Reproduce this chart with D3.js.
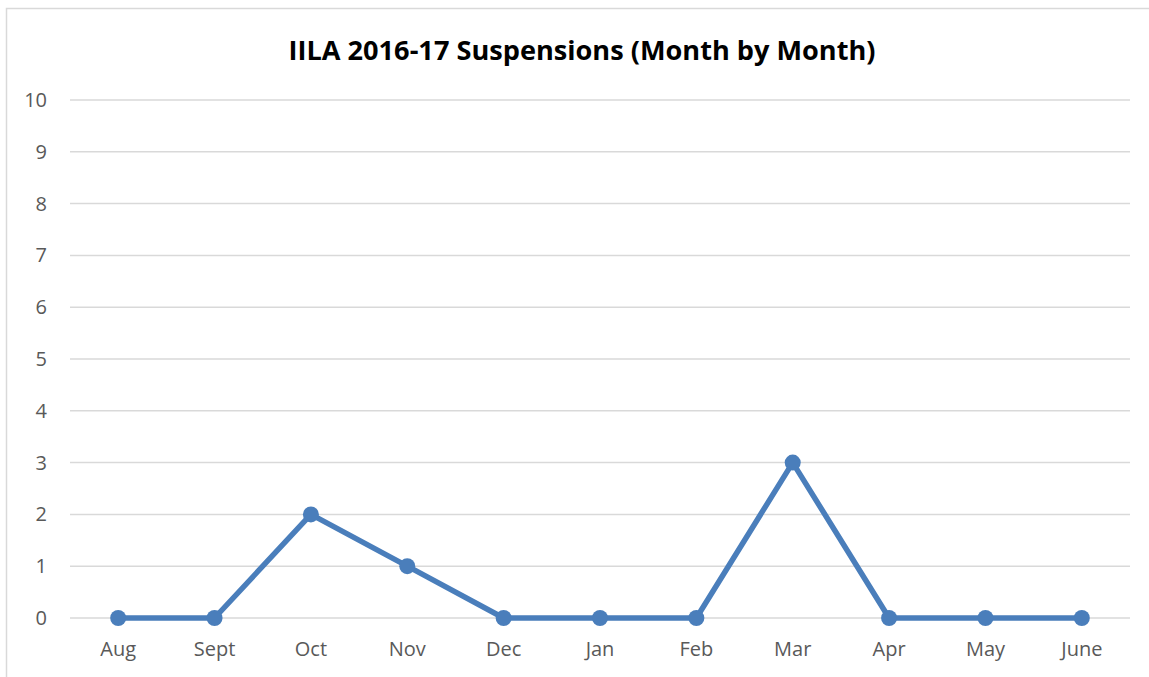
<!DOCTYPE html>
<html>
<head>
<meta charset="utf-8">
<script src="https://cdn.jsdelivr.net/npm/d3@7"></script>
<style>
  html, body { margin: 0; padding: 0; background: #fff; }
  svg { display: block; }
</style>
</head>
<body>
<svg id="chart" width="1149" height="677"></svg>
<script>
const months = ["Aug", "Sept", "Oct", "Nov", "Dec", "Jan", "Feb", "Mar", "Apr", "May", "June"];
const suspensions = [0, 0, 2, 1, 0, 0, 0, 3, 0, 0, 0];
const yTicks = [0, 1, 2, 3, 4, 5, 6, 7, 8, 9, 10];
const title = "IILA 2016-17 Suspensions (Month by Month)";

const svg = d3.select("#chart");
const W = 1149, H = 677;
const font = "'Open Sans', 'Liberation Sans', sans-serif";

// outer chart frame
svg.append("rect")
  .attr("x", 6.5).attr("y", 8.5)
  .attr("width", W + 10).attr("height", H + 10)
  .attr("fill", "#fff").attr("stroke", "#d9d9d9").attr("stroke-width", 1.5);

const plot = { left: 70, right: 1130, top: 100, bottom: 618 };

const x = d3.scaleBand().domain(months).range([plot.left, plot.right]);
const y = d3.scaleLinear().domain([0, 10]).range([plot.bottom, plot.top]);

// title
svg.append("text")
  .attr("x", 582).attr("y", 60)
  .attr("text-anchor", "middle")
  .attr("font-family", font).attr("font-weight", "bold")
  .attr("font-size", 27).attr("fill", "#000")
  .attr("textLength", 587).attr("lengthAdjust", "spacingAndGlyphs")
  .text(title);

// horizontal gridlines
svg.append("g").selectAll("line").data(yTicks).join("line")
  .attr("x1", plot.left).attr("x2", plot.right)
  .attr("y1", d => y(d)).attr("y2", d => y(d))
  .attr("stroke", "#d9d9d9").attr("stroke-width", 1.5);

// y axis labels
const yAxis = d3.axisLeft(y).tickValues(yTicks).tickSize(0).tickPadding(0);
svg.append("g")
  .attr("transform", `translate(47,0)`)
  .call(yAxis)
  .call(g => g.select(".domain").remove())
  .call(g => g.selectAll("text")
    .attr("font-family", font).attr("font-size", 20)
    .attr("fill", "#595959").attr("text-anchor", "end"));

// x axis labels
const xAxis = d3.axisBottom(x).tickSize(0).tickPadding(0);
svg.append("g")
  .attr("transform", `translate(0,${plot.bottom + 24})`)
  .call(xAxis)
  .call(g => g.select(".domain").remove())
  .call(g => g.selectAll("text")
    .attr("font-family", font).attr("font-size", 20)
    .attr("fill", "#595959"));

const cx = d => x(d) + x.bandwidth() / 2;
const color = "#4a7ebb";

// data line
const line = d3.line()
  .x((d, i) => cx(months[i]))
  .y(d => y(d));

svg.append("path")
  .datum(suspensions)
  .attr("d", line)
  .attr("fill", "none")
  .attr("stroke", color)
  .attr("stroke-width", 5.5)
  .attr("stroke-linejoin", "round");

// markers
svg.append("g").selectAll("circle").data(suspensions).join("circle")
  .attr("cx", (d, i) => cx(months[i]))
  .attr("cy", d => y(d))
  .attr("r", 8)
  .attr("fill", color);
</script>
</body>
</html>
